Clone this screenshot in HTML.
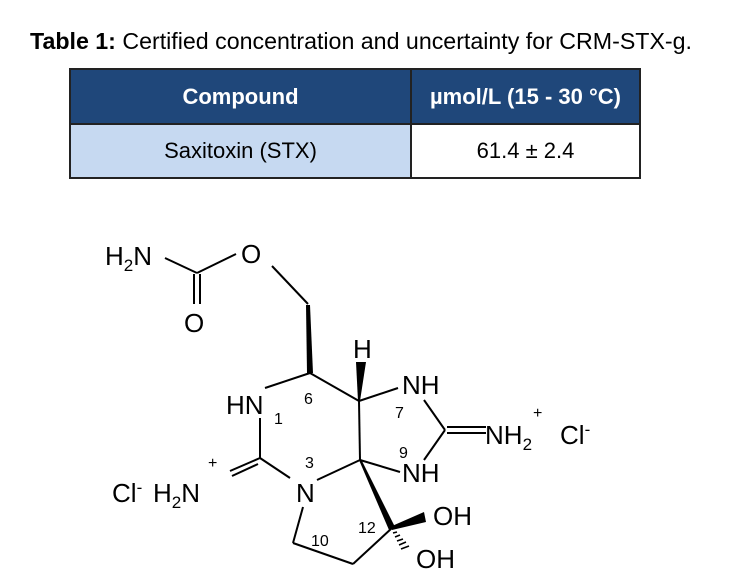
<!DOCTYPE html>
<html><head><meta charset="utf-8"><style>
body{margin:0;width:747px;height:579px;background:#fff;overflow:hidden;font-family:"Liberation Sans",Arial,sans-serif;}
.t{position:absolute;left:30px;top:28px;font-size:23.2px;color:#000;white-space:nowrap;}
table{position:absolute;left:69px;top:68px;border-collapse:collapse;width:572px;}
td{border:2px solid #222;text-align:center;font-size:22px;}
.h td{background:#1f477a;color:#fff;font-weight:bold;height:51px;}
.r td{height:50px;}
</style></head><body>
<div class="t"><b>Table 1:</b> Certified concentration and uncertainty for CRM-STX-g.</div>
<table><tr class="h"><td style="width:337px">Compound</td><td>µmol/L (15 - 30 °C)</td></tr>
<tr class="r"><td style="background:#c6d9f1">Saxitoxin (STX)</td><td>61.4 ± 2.4</td></tr></table>
<svg width="747" height="579" style="position:absolute;left:0;top:0" font-family="Liberation Sans, Arial, sans-serif">
<g stroke="#000" stroke-width="2" fill="none">
<line x1="165" y1="258" x2="197" y2="273"/>
<line x1="197" y1="273" x2="236" y2="254"/>
<line x1="194" y1="274" x2="194" y2="304"/>
<line x1="200" y1="274" x2="200" y2="304"/>
<line x1="272" y1="266" x2="308" y2="304"/>
<line x1="265" y1="388" x2="310" y2="373"/>
<line x1="310" y1="373" x2="359" y2="401"/>
<line x1="359" y1="401" x2="398" y2="388"/>
<line x1="359" y1="401" x2="360" y2="460"/>
<line x1="424" y1="400" x2="445" y2="430"/>
<line x1="445" y1="430" x2="424" y2="460"/>
<line x1="447" y1="427" x2="486" y2="427"/>
<line x1="447" y1="433" x2="486" y2="433"/>
<line x1="360" y1="460" x2="400" y2="472"/>
<line x1="317" y1="480" x2="360" y2="460"/>
<line x1="260" y1="418" x2="260" y2="458"/>
<line x1="260" y1="458" x2="290" y2="478"/>
<line x1="260" y1="458" x2="230" y2="471"/>
<line x1="258" y1="464" x2="232" y2="476"/>
<line x1="303" y1="507" x2="293" y2="543"/>
<line x1="293" y1="543" x2="353" y2="564"/>
<line x1="353" y1="564" x2="392" y2="528"/>
</g>
<g fill="#000">
<polygon points="306,305 310,305 313,373 307,373"/>
<polygon points="356,362 366,362 360,401 358,401"/>
<polygon points="359,460 361,459 395,527 389,530"/>
<polygon points="392,526 392,530 426,522 424,512"/>
</g>
<g stroke="#000" stroke-width="1.5">
<line x1="393" y1="533" x2="397" y2="532"/><line x1="395" y1="537" x2="400" y2="535"/><line x1="397" y1="541" x2="403" y2="539"/><line x1="399" y1="545" x2="406" y2="542"/><line x1="401" y1="549" x2="409" y2="546"/>
</g>
<g font-size="26" fill="#000">
<text x="105" y="265">H<tspan font-size="17" dy="6">2</tspan><tspan dy="-6">N</tspan></text>
<text x="241" y="263">O</text>
<text x="184" y="332">O</text>
<text x="353" y="358">H</text>
<text x="226" y="414">HN</text>
<text x="402" y="394">NH</text>
<text x="402" y="482">NH</text>
<text x="296" y="502">N</text>
<text x="112" y="502">Cl<tspan font-size="17" dy="-9">-</tspan></text>
<text x="153" y="502">H<tspan font-size="17" dy="6">2</tspan><tspan dy="-6">N</tspan></text>
<text x="485" y="444">NH<tspan font-size="17" dy="6">2</tspan></text>
<text x="560" y="444">Cl<tspan font-size="17" dy="-9">-</tspan></text>
<text x="433" y="525">OH</text>
<text x="416" y="568">OH</text>
</g>
<g font-size="16" fill="#000">
<text x="208" y="468">+</text>
<text x="533" y="418">+</text>
<text x="304" y="404">6</text>
<text x="274" y="424">1</text>
<text x="395" y="418">7</text>
<text x="305" y="468">3</text>
<text x="399" y="458">9</text>
<text x="311" y="546">10</text>
<text x="358" y="533">12</text>
</g>
</svg>
</body></html>
